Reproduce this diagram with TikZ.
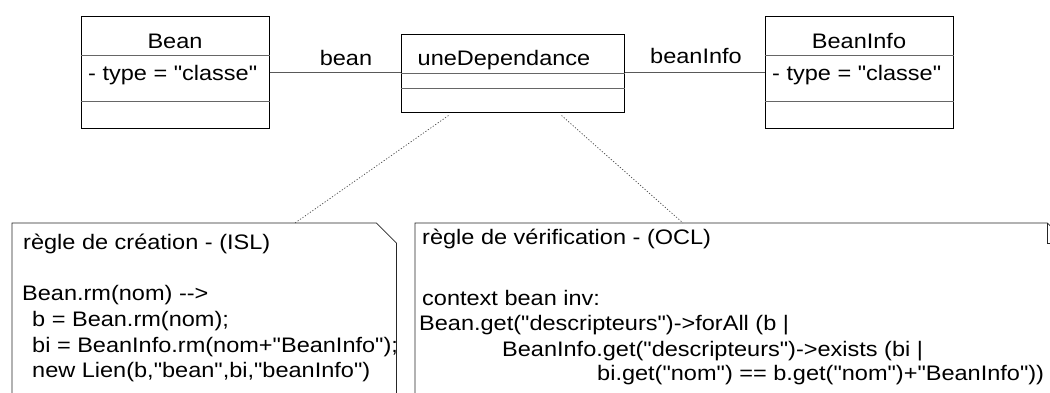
\documentclass[tikz,border=0pt]{standalone}
\usepackage{fontspec}
\setmainfont{Liberation Sans}[FakeStretch=1.12, Ligatures=TeXOff]
\usepackage{tikz}

\begin{document}
\begin{tikzpicture}[x=1pt,y=-1pt,
    every node/.style={font=\fontsize{21}{25}\selectfont, inner sep=0pt},
    classbox/.style={draw, line width=1pt, rectangle},
    sepline/.style={draw=black!60, line width=0.8pt},
    assoc/.style={draw=black!65, line width=0.8pt},
    notebox/.style={draw=black!85, line width=0.8pt},
    notelink/.style={draw=black!70, line width=0.7pt, dash pattern=on 1.2pt off 1.8pt}]
    \useasboundingbox (0,0) rectangle (1050,392);
    \clip (0,0) rectangle (1050,392);

    \node[classbox, minimum width=188pt, minimum height=112pt] (bean) at (175,72) {};
    \draw[sepline] ([yshift=-40pt]bean.north west) -- ([yshift=-40pt]bean.north east);
    \draw[sepline] ([yshift=-86pt]bean.north west) -- ([yshift=-86pt]bean.north east);
    \node[anchor=base] (beanname) at (175,48) {Bean};
    \node[anchor=base west] (beanattr) at (88,80) {- type = "classe"};

    \node[classbox, minimum width=223pt, minimum height=78pt] (dep) at (512.5,73) {};
    \draw[sepline] ([yshift=-40pt]dep.north west) -- ([yshift=-40pt]dep.north east);
    \draw[sepline] ([yshift=-55pt]dep.north west) -- ([yshift=-55pt]dep.north east);
    \node[anchor=base] (depname) at (504,65) {uneDependance};

    \node[classbox, minimum width=188pt, minimum height=112pt] (info) at (859,72) {};
    \draw[sepline] ([yshift=-40pt]info.north west) -- ([yshift=-40pt]info.north east);
    \draw[sepline] ([yshift=-86pt]info.north west) -- ([yshift=-86pt]info.north east);
    \node[anchor=base] (infoname) at (859,48) {BeanInfo};
    \node[anchor=base west] (infoattr) at (772,80) {- type = "classe"};

    \draw[assoc] (bean.east) -- (bean.east -| dep.west);
    \node[anchor=base] (beanrole) at (346,65) {bean};
    \draw[assoc] (info.west -| dep.east) -- (info.west);
    \node[anchor=base] (inforole) at (696,63) {beanInfo};

    % notes
    \node[minimum width=384pt, minimum height=200pt, anchor=north west] (isl) at (12,223) {};
    \draw[notebox] (isl.south west) |- ([xshift=-20pt]isl.north east)
        -- ([yshift=-20pt]isl.north east) -- (isl.south east);
    \node[anchor=base west] (isltitle) at (23,249) {règle de création - (ISL)};
    \node[anchor=base west] (islrule) at (22,300) {Bean.rm(nom) -{}->};
    \node[anchor=base west] (islb) at (32,326) {b = Bean.rm(nom);};
    \node[anchor=base west] (islbi) at (32,352) {bi = BeanInfo.rm(nom+"BeanInfo");};
    \node[anchor=base west] (isllien) at (32,377) {new Lien(b,"bean",bi,"beanInfo")};

    \node[minimum width=652pt, minimum height=200pt, anchor=north west] (ocl) at (415,223) {};
    \draw[notebox] (ocl.south west) |- ([xshift=-20pt]ocl.north east)
        -- ([yshift=-20pt]ocl.north east) -- (ocl.south east);
    \draw[notebox] ([xshift=-20pt]ocl.north east) -- ++(0,20) -- ++(20,0);
    \node[anchor=base west] (ocltitle) at (422,244) {règle de vérification - (OCL)};
    \node[anchor=base west] (oclctx) at (422,305) {context bean inv:};
    \node[anchor=base west] (oclall) at (419,330) {Bean.get("descripteurs")->forAll (b |};
    \node[anchor=base west] (oclex) at (502,356) {BeanInfo.get("descripteurs")->exists (bi |};
    \node[anchor=base west] (oclnom) at (597,380) {bi.get("nom") == b.get("nom")+"BeanInfo"))};

    \draw[notelink] ([xshift=48pt,yshift=-3pt]dep.south west) -- ([xshift=283pt]isl.north west);
    \draw[notelink] ([xshift=161pt,yshift=-3pt]dep.south west) -- ([xshift=268pt]ocl.north west);
\end{tikzpicture}
\end{document}
